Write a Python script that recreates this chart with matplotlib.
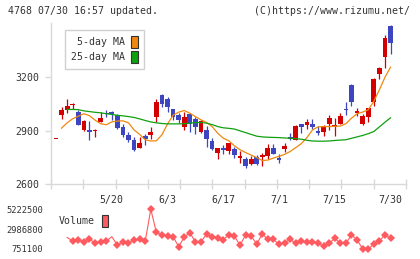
import numpy as np
import matplotlib
matplotlib.use("Agg")
import matplotlib.pyplot as plt
from matplotlib.patches import Patch

# daily candles, 2 May - 30 Jul (index = trading day)
opens = [2853, 2991, 3018, 3044, 3006, 2907, 2906, 2897, 2950, 3001,
         3006, 2990, 2924, 2874, 2850, 2805, 2869, 2874, 2975, 3102,
         3079, 3021, 2988, 2924, 2992, 2967, 2891, 2906, 2844, 2775,
         2803, 2785, 2796, 2745, 2741, 2712, 2755, 2751, 2756, 2806,
         2750, 2800, 2866, 2850, 2939, 2934, 2939, 2900, 2891, 2941,
         2922, 2941, 3022, 3158, 3001, 2941, 2975, 3064, 3221, 3315,
         3489]
highs = [2853, 3036, 3079, 3055, 3018, 2960, 2956, 2913, 3005, 3018,
         3012, 2992, 2939, 2896, 2863, 2865, 2882, 2919, 3079, 3104,
         3090, 3024, 2999, 3006, 3000, 2978, 2962, 2928, 2860, 2806,
         2820, 2834, 2809, 2788, 2752, 2760, 2765, 2777, 2827, 2828,
         2770, 2833, 2887, 2932, 2941, 2964, 2967, 2925, 2933, 2990,
         2973, 2999, 3059, 3160, 3029, 2994, 3030, 3195, 3260, 3438,
         3496]
lows = [2853, 2969, 2999, 3022, 2930, 2898, 2850, 2865, 2948, 2980,
        2958, 2913, 2866, 2840, 2788, 2803, 2818, 2855, 2950, 3036,
        3003, 2962, 2945, 2906, 2895, 2883, 2889, 2812, 2795, 2740,
        2772, 2771, 2748, 2720, 2692, 2711, 2710, 2700, 2742, 2770,
        2722, 2780, 2846, 2846, 2886, 2911, 2910, 2878, 2872, 2902,
        2872, 2938, 2990, 3040, 2984, 2932, 2952, 3040, 3192, 3255,
        3332]
closes = [2853, 3018, 3042, 3050, 2935, 2956, 2891, 2905, 2973, 2992,
          2997, 2915, 2878, 2846, 2790, 2834, 2852, 2891, 3063, 3053,
          3031, 2975, 2960, 2978, 2936, 2924, 2956, 2852, 2797, 2804,
          2790, 2833, 2762, 2756, 2700, 2743, 2712, 2765, 2806, 2771,
          2734, 2817, 2852, 2928, 2919, 2951, 2922, 2888, 2927, 2971,
          2930, 2984, 3015, 3064, 3014, 2982, 3029, 3192, 3253, 3423,
          3395]

# moving averages as drawn on the chart (None = not drawn)
ma5 = [None, 2915, 2945, 2968, 2982, 2996, 2985, 2960, 2940, 2934,
       2950, 2955, 2956, 2945, 2905, 2880, 2850, 2843, 2844, 2878,
       2938, 2988, 3005, 3014, 2999, 2980, 2962, 2947, 2924, 2887,
       2859, 2844, 2816, 2794, 2778, 2764, 2750, 2733, 2736, 2747,
       2757, 2768, 2784, 2806, 2828, 2862, 2905, 2922, 2924, 2924,
       2925, 2927, 2940, 2971, 2996, 3005, 3018, 3065, 3130, 3200,
       3257]
ma25 = [None, None, 3020, 3020, 3019, 3012, 3008, 3004, 3001, 2996,
        2992, 2987, 2984, 2980, 2975, 2967, 2958, 2950, 2945, 2941,
        2939, 2939, 2939, 2940, 2943, 2946, 2947, 2943, 2935, 2924,
        2917, 2914, 2910, 2900, 2890, 2880, 2870, 2866, 2864, 2863,
        2862, 2860, 2858, 2856, 2853, 2847, 2843, 2842, 2842, 2843,
        2846, 2848, 2850, 2858, 2866, 2874, 2884, 2896, 2922, 2948,
        2973]

volume = [None, None, 2050000, 1650000, 1760000, 1510000, 1840000, 1430000, 1510000, 1620000,
          2140000, 1200000, 1540000, 1430000, 1730000, 1880000, 1620000, 5222500, 2630000, 2330000,
          2210000, 2140000, 1010000, 2100000, 2590000, 1540000, 1570000, 2410000, 2140000, 2020000,
          1800000, 2350000, 2210000, 1170000, 2330000, 2210000, 1310000, 2440000, 1840000, 1840000,
          1280000, 1460000, 1840000, 1390000, 1620000, 1510000, 1510000, 1390000, 1050000, 1390000,
          1950000, 1390000, 1390000, 2330000, 1760000, 790000, 751100, 1280000, 1650000, 2330000,
          1950000]

date_ticks = [10, 20, 30, 40, 50, 60]
date_labels = ["5/20", "6/3", "6/17", "7/1", "7/15", "7/30"]
price_ticks = [2600, 2900, 3200]
vol_ticks = [751100, 2986800, 5222500]

red = "#d40000"
blue = "#3d45c0"
grid_c = "#d9d9d9"
text_c = "#333333"
plt.rcParams["font.family"] = ["DejaVu Sans Mono"]
plt.rcParams["font.size"] = 7.1

n = len(closes)
x = np.arange(n)
o = np.array(opens, dtype=float)
c = np.array(closes, dtype=float)
up = c >= o
colors = np.where(up, red, blue)

fig = plt.figure(figsize=(4.2, 2.59), dpi=100)
xlim = (-0.9, 62.78)

# ---- price panel
ax = fig.add_axes([51 / 420, 1 - 184.3 / 259, 355 / 420, (184.3 - 23) / 259])
ax.vlines(x, lows, highs, colors=colors, linewidth=0.9, zorder=2)
body_h = np.maximum(np.abs(c - o), 5)
ax.bar(x, body_h, bottom=np.minimum(o, c), width=0.85, color=colors,
       linewidth=0, zorder=3)
ma5_arr = np.array([np.nan if v is None else v for v in ma5], dtype=float)
ma25_arr = np.array([np.nan if v is None else v for v in ma25], dtype=float)
ax.plot(x, ma5_arr, color="#f0880f", linewidth=0.9, zorder=4)
ax.plot(x, ma25_arr, color="#0fa00f", linewidth=0.9, zorder=4)

ax.set_xlim(*xlim)
ax.set_ylim(2600, 3505)
for s in ["top", "right"]:
    ax.spines[s].set_visible(False)
for s in ["left", "bottom"]:
    ax.spines[s].set_color(grid_c)
    ax.spines[s].set_linewidth(1.0)
ax.set_yticks(price_ticks)
ax.set_yticklabels([str(t) for t in price_ticks], color=text_c)
ax.tick_params(axis="y", direction="out", length=4.5, width=1.0, color=grid_c, pad=3.6)
ax.set_xticks(date_ticks)
ax.set_xticklabels(date_labels, color=text_c)
ax.set_xticks(np.linspace(xlim[0], xlim[1], 12), minor=True)
ax.tick_params(axis="x", which="major", length=0, pad=8)
ax.tick_params(axis="x", which="minor", direction="inout", length=6.5, width=1.0, color=grid_c)

leg = ax.legend(handles=[Patch(facecolor="#f0880f", edgecolor="#333333", linewidth=0.8),
                         Patch(facecolor="#0fa00f", edgecolor="#333333", linewidth=0.8)],
                labels=["5-day MA", "25-day MA"], markerfirst=False,
                loc="upper left", bbox_to_anchor=(65 / 420, 1 - 30 / 259),
                bbox_transform=fig.transFigure, borderaxespad=0, fancybox=False,
                handlelength=0.68, handleheight=1.5, handletextpad=0.6,
                labelspacing=0.28, borderpad=0.62, framealpha=1)
leg.get_frame().set_edgecolor("#d0d0d0")
leg.get_frame().set_linewidth(1.0)
for t in leg.get_texts():
    t.set_color(text_c)

# ---- volume panel
vx = fig.add_axes([51 / 420, 1 - 249 / 259, 355 / 420, (249 - 209.3) / 259])
vol = np.array([np.nan if v is None else v for v in volume], dtype=float)
marked = [i for i, v in enumerate(volume) if v is not None and i not in (2, 10)]
vx.plot(x, vol, color="#ff5a5f", linewidth=0.8, marker="D", markersize=4.2,
        markevery=marked, markeredgewidth=0, clip_on=False)
vx.set_xlim(*xlim)
vx.set_ylim(751100, 5222500)
for s in vx.spines.values():
    s.set_visible(False)
vx.set_xticks([])
vx.set_yticks(vol_ticks)
vx.set_yticklabels([str(t) for t in vol_ticks], color=text_c, fontsize=6.3)
vx.tick_params(axis="y", length=0, pad=5.5)
vleg = vx.legend(handles=[Patch(facecolor="#ff5a5f", edgecolor="#333333", linewidth=0.8)],
                 labels=["Volume"], markerfirst=False, frameon=False,
                 loc="upper left", bbox_to_anchor=(59 / 420, 1 - 214.5 / 259),
                 bbox_transform=fig.transFigure, borderaxespad=0, borderpad=0,
                 handlelength=0.62, handleheight=1.5, handletextpad=0.7)
for t in vleg.get_texts():
    t.set_color(text_c)

fig.text(8 / 420, 1 - 11 / 259, "4768 07/30 16:57 updated.", color=text_c, va="center")
fig.text(410 / 420, 1 - 11 / 259, "(C)https://www.rizumu.net/", color=text_c,
         va="center", ha="right")

fig.savefig("out.png", dpi=100)
